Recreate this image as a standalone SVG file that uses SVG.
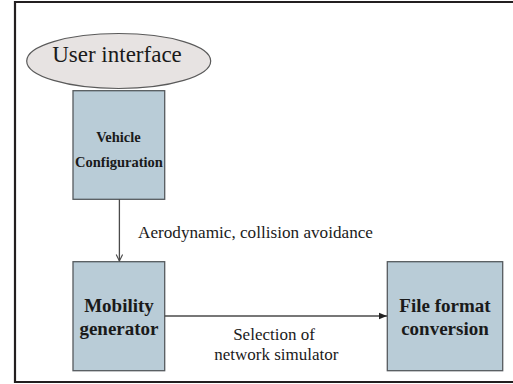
<svg xmlns="http://www.w3.org/2000/svg" width="513" height="384" viewBox="0 0 513 384">
  <style>
    .frame { fill: none; stroke: #231f20; stroke-width: 2.2; }
    .box { fill: #b9ccd7; stroke: #555a5e; stroke-width: 1.3; }
    .oval { fill: #e7e3e2; stroke: #5a5a5a; stroke-width: 1.2; }
    .wire { fill: none; stroke: #4a4a4a; stroke-width: 1.3; }
    .t { font-family: 'Liberation Serif', 'DejaVu Serif', serif; fill: #1a1a1a; text-anchor: middle; }
    .b { font-weight: bold; }
  </style>
  <defs>
    <marker id="open" viewBox="0 0 10 10" refX="9" refY="5" markerWidth="8" markerHeight="8" markerUnits="userSpaceOnUse" orient="auto">
      <path d="M1,1 L9,5 L1,9" fill="none" stroke="#4a4a4a" stroke-width="1.4"/>
    </marker>
    <marker id="solid" viewBox="0 0 10 10" refX="10" refY="5" markerWidth="8" markerHeight="8" markerUnits="userSpaceOnUse" orient="auto">
      <path d="M0,1 L10,5 L0,9 Z" fill="#222"/>
    </marker>
  </defs>

  <!-- outer frame: open on the right side -->
  <path class="frame" d="M520,2 H15 V382 H520"/>

  <g id="user-interface">
    <ellipse class="oval" cx="118.7" cy="61" rx="92" ry="27.5"/>
    <text class="t" x="117" y="62" font-size="23">User interface</text>
  </g>

  <g id="vehicle-configuration">
    <rect class="box" x="73" y="90.7" width="91.7" height="108.6"/>
    <text class="t b" x="118.5" y="142" font-size="14.5">Vehicle</text>
    <text class="t b" x="119" y="166.5" font-size="14.5">Configuration</text>
  </g>

  <g id="mobility-generator">
    <rect class="box" x="73" y="261.7" width="91.7" height="109"/>
    <text class="t b" x="119" y="311.5" font-size="19">Mobility</text>
    <text class="t b" x="119" y="335" font-size="19">generator</text>
  </g>

  <g id="file-format-conversion">
    <rect class="box" x="387.3" y="261.7" width="115.4" height="109"/>
    <text class="t b" x="445" y="311.5" font-size="19">File format</text>
    <text class="t b" x="445" y="335" font-size="19">conversion</text>
  </g>

  <g id="connectors">
    <line class="wire" x1="119.4" y1="199.3" x2="119.4" y2="261" marker-end="url(#open)"/>
    <text class="t" x="255.5" y="237.5" font-size="16.5" textLength="235" lengthAdjust="spacingAndGlyphs">Aerodynamic, collision avoidance</text>
    <line class="wire" x1="164.7" y1="316" x2="387" y2="316" marker-end="url(#solid)"/>
    <text class="t" x="274" y="340" font-size="17">Selection of</text>
    <text class="t" x="276.3" y="360" font-size="17">network simulator</text>
  </g>
</svg>
